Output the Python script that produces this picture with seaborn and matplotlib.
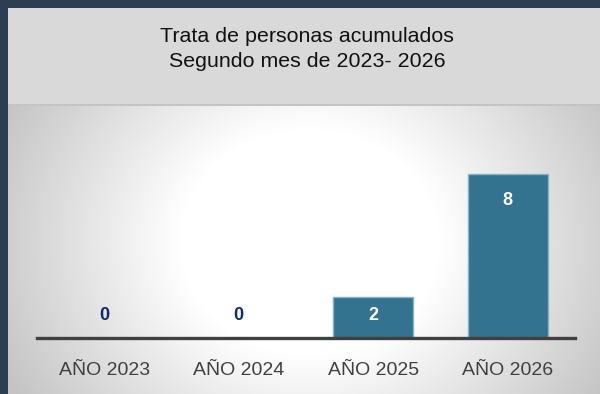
import numpy as np
import pandas as pd
import matplotlib
matplotlib.use("Agg")
import matplotlib.pyplot as plt
import seaborn as sns

# Data
categorias = ["AÑO 2023", "AÑO 2024", "AÑO 2025", "AÑO 2026"]
valores = [0, 0, 2, 8]
titulo = "Trata de personas acumulados\nSegundo mes de 2023- 2026"

df = pd.DataFrame({"anio": categorias, "casos": valores})

sns.set_theme(style="white")
plt.rcParams["font.family"] = ["Liberation Sans", "DejaVu Sans"]

W, H = 600, 394
fig = plt.figure(figsize=(W / 100, H / 100), dpi=100)
fig.patch.set_facecolor("#2E3E52")

def box(x0, y0, x1, y1):
    # pixel box (top-left origin) -> figure fraction rect
    return [x0 / W, 1 - y1 / H, (x1 - x0) / W, (y1 - y0) / H]

def blank(a):
    a.set_xticks([]); a.set_yticks([])
    for s in a.spines.values():
        s.set_visible(False)

# Title band
ax_title = fig.add_axes(box(8, 8, 600, 104))
ax_title.set_facecolor("#D9D9D9")
blank(ax_title)
ax_title.text(0.505, 0.575, titulo, ha="center", va="center", fontsize=15.4,
              color="#111111", linespacing=1.38, transform=ax_title.transAxes)

# Separator line under the title band
ax_sep = fig.add_axes(box(8, 104, 600, 106))
ax_sep.set_facecolor("#C4C4C4")
blank(ax_sep)

# Radial gradient backdrop for the plot region
gx0, gy0, gx1, gy1 = 8, 106, 600, 394
ax_bg = fig.add_axes(box(gx0, gy0, gx1, gy1))
xs = np.linspace(gx0, gx1, 400)
ys = np.linspace(gy0, gy1, 200)
X, Y = np.meshgrid(xs, ys)
cx, cy = 310, 242
r = np.sqrt(((X - cx) / 310) ** 2 + ((Y - cy) / 270) ** 2)
t = np.clip((r - 0.42) / 0.68, 0, 1)
light, dark = 1.0, 0.77
val = light + (dark - light) * t
img = np.dstack([val, val, val])
ax_bg.imshow(img, aspect="auto", extent=(0, 1, 0, 1), interpolation="bilinear")
blank(ax_bg)

# Bar chart
ax = fig.add_axes(box(37, 106, 575, 338))
ax.patch.set_alpha(0)
sns.barplot(data=df, x="anio", y="casos", ax=ax, color="#33738F",
            width=0.595, edgecolor="#86B3C6", linewidth=1.0, saturation=1)
ax.set_xlim(-0.5, 3.5)
ax.set_ylim(0, 11.32)
ax.set_xlabel(""); ax.set_ylabel("")
ax.set_yticks([])
for side in ["top", "right", "left"]:
    ax.spines[side].set_visible(False)
ax.spines["bottom"].set_color("#404040")
ax.spines["bottom"].set_linewidth(2.4)
ax.tick_params(axis="x", length=0, pad=17, labelsize=14, labelcolor="#404040")

for i, v in enumerate(valores):
    y = max(v - 1.3, 1.1)
    color = "white" if v > 0 else "#0D2A6E"
    ax.text(i, y, f"{v}", ha="center", va="center", fontsize=13,
            fontweight="bold", color=color)

fig.savefig("out.png", dpi=100, facecolor=fig.get_facecolor())
